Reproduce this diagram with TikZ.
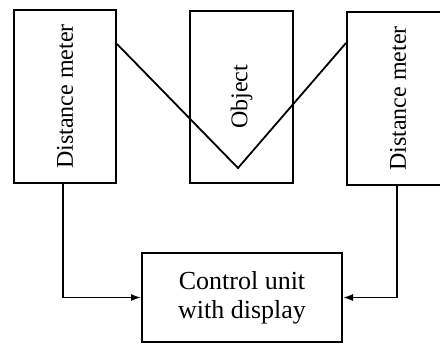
\documentclass[tikz,border=0pt]{standalone}
\usepackage{fontspec}
\setmainfont{Liberation Serif}
\usepackage{tikz}
\usetikzlibrary{arrows.meta,positioning,calc}
\tikzset{
    unitbox/.style={draw, line width=1pt, inner sep=0pt, font=\fontsize{12}{14.5}\selectfont},
    wire/.style={line width=0.8pt, -{Latex[length=5pt,width=3.5pt]}}
}

\begin{document}
\begin{tikzpicture}[x=0.5pt, y=0.5pt]
    \useasboundingbox (0,0) rectangle (440,344);
    % Two distance meters and the object between them
    \node[unitbox, minimum width=51pt, minimum height=86.5pt] (meterL) at (65,247.5) {\rotatebox{90}{Distance meter}};
    \node[unitbox, minimum width=51.5pt, minimum height=86pt] (object) at (241.5,247) {\rotatebox{90}{Object}};
    \node[unitbox, minimum width=51pt, minimum height=86.5pt] (meterR) at (398,245.5) {\rotatebox{90}{Distance meter}};
    % Control unit
    \node[unitbox, minimum width=100pt, minimum height=44.5pt, align=center,
          font=\fontsize{13}{14.5}\selectfont] (control) at (242,46.5) {Control unit\\with display};
    % Measuring beams reflected at the object
    \coordinate (bounce) at (238,176);
    \draw[line width=0.9pt] ($(meterL.north east)+(0,-35)$) -- (bounce) -- ($(meterR.north west)+(0,-32)$);
    % Signal lines to the control unit
    \draw[wire] ($(meterL.south)+(-2,0)$) |- (control.west);
    \draw[wire] ($(meterR.south)+(-1,0)$) |- (control.east);
\end{tikzpicture}
\end{document}
